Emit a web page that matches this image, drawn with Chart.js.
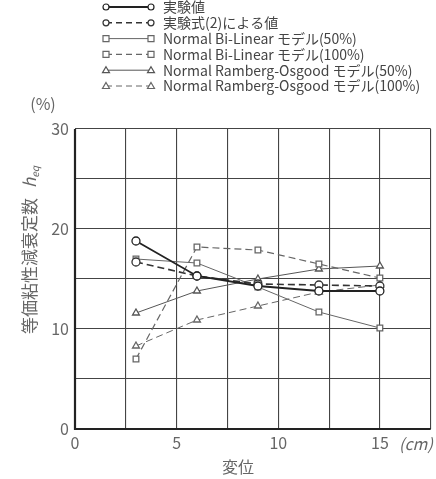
<!DOCTYPE html>
<html><head><meta charset="utf-8">
<script src="https://cdn.jsdelivr.net/npm/chart.js@4.4.0/dist/chart.umd.min.js"></script>
<style>html,body{margin:0;padding:0;background:#fff}#wrap{width:436px;height:479px}</style>
</head><body><div id="wrap"><canvas id="c" width="436" height="479"></canvas></div>
<script>
const displacement = [3, 6, 9, 12, 15];
const seriesNames = ["実験値", "実験式(2)による値", "Normal Bi-Linear モデル(50%)", "Normal Bi-Linear モデル(100%)", "Normal Ramberg-Osgood モデル(50%)", "Normal Ramberg-Osgood モデル(100%)"];
const experimental = [18.8, 15.3, 14.3, 13.8, 13.8];
const formula2 = [16.7, 15.3, 14.5, 14.4, 14.3];
const biLinear50 = [17.0, 16.6, 14.2, 11.7, 10.1];
const biLinear100 = [7.0, 18.2, 17.9, 16.5, 15.1];
const ramberg50 = [11.6, 13.8, 15.0, 16.0, 16.3];
const ramberg100 = [8.3, 10.9, 12.3, 13.7, 14.4];
const xTickLabels = [0, 5, 10, 15];
const yTickLabels = [0, 10, 20, 30];

const FONT = '"Noto Sans CJK JP", "Noto Sans", sans-serif';
const GREY = '#666';
function pts(arr){ return arr.map((v,i)=>({x: displacement[i], y: v})); }
const styles = [
  {data: experimental, dash: [], point: 'circle', color: '#222', width: 1.8},
  {data: formula2, dash: [7,4], point: 'circle', color: '#333', width: 1.6},
  {data: biLinear50, dash: [], point: 'rect', color: '#666', width: 1},
  {data: biLinear100, dash: [7,4], point: 'rect', color: '#666', width: 1.2},
  {data: ramberg50, dash: [], point: 'triangle', color: '#555', width: 1},
  {data: ramberg100, dash: [7,4], point: 'triangle', color: '#666', width: 1},
];
const datasets = styles.map((s,i)=>({
  label: seriesNames[i], data: pts(s.data), borderColor: s.color, borderWidth: s.width,
  borderDash: s.dash, pointStyle: s.point, pointRadius: 4, pointBackgroundColor: '#fff',
  pointBorderColor: s.color, pointBorderWidth: 1.3, fill: false, tension: 0
}));

const extras = {
  id: 'extras',
  afterDraw(chart){
    const ctx = chart.ctx;
    ctx.save();
    // Legend
    const rowY0 = 7, rowH = 15.8, x1 = 106, x2 = 151, tx = 163;
    ctx.font = '14px ' + FONT;
    ctx.textBaseline = 'middle';
    styles.forEach((s,i)=>{
      const y = rowY0 + i*rowH;
      ctx.strokeStyle = s.color; ctx.lineWidth = s.width;
      ctx.setLineDash(s.dash.length ? [6,4] : []);
      ctx.beginPath(); ctx.moveTo(x1, y); ctx.lineTo(x2, y); ctx.stroke();
      ctx.setLineDash([]);
      [x1, x2].forEach(px=>{
        ctx.fillStyle = '#fff'; ctx.lineWidth = 1.2; ctx.strokeStyle = s.color;
        ctx.beginPath();
        if (s.point==='circle'){ ctx.arc(px, y, 3, 0, Math.PI*2); }
        else if (s.point==='rect'){ ctx.rect(px-3, y-3, 6, 6); }
        else { ctx.moveTo(px, y-3.5); ctx.lineTo(px+3.5, y+2.5); ctx.lineTo(px-3.5, y+2.5); ctx.closePath(); }
        ctx.fill(); ctx.stroke();
      });
      ctx.fillStyle = '#444';
      ctx.textAlign = 'left';
      ctx.fillText(seriesNames[i], tx, y);
    });
    // (%)
    ctx.fillStyle = GREY;
    ctx.font = '16px ' + FONT;
    ctx.textAlign = 'center';
    ctx.fillText('(%)', 43, 104);
    // (cm)
    ctx.font = 'italic 16px ' + FONT;
    ctx.textAlign = 'left';
    ctx.fillText('(cm)', 399, 444);
    // 変位
    ctx.font = '16px ' + FONT;
    ctx.textAlign = 'center';
    ctx.fillText('変位', 238, 467);
    // y title
    ctx.translate(30, 250);
    ctx.rotate(-Math.PI/2);
    ctx.font = '17px ' + FONT;
    ctx.textAlign = 'center';
    const main = '等価粘性減衰定数';
    const w = ctx.measureText(main).width;
    ctx.font = 'italic 17px ' + FONT;
    const hw = ctx.measureText('h').width;
    ctx.font = 'italic 10px ' + FONT;
    const ew = ctx.measureText('eq').width;
    const total = w + 10 + hw + ew;
    let sx = -total/2;
    ctx.textAlign = 'left';
    ctx.font = '17px ' + FONT;
    ctx.fillText(main, sx, 0);
    sx += w + 10;
    ctx.font = 'italic 17px ' + FONT;
    ctx.fillText('h', sx, 0);
    sx += hw;
    ctx.font = 'italic 10px ' + FONT;
    ctx.fillText('eq', sx, 5);
    ctx.restore();
    // thick frame left and bottom
    const a = chart.chartArea;
    ctx.save();
    ctx.strokeStyle = '#222'; ctx.lineWidth = 2.2;
    ctx.beginPath(); ctx.moveTo(a.left, a.top); ctx.lineTo(a.left, a.bottom); ctx.lineTo(a.right, a.bottom); ctx.stroke();
    ctx.restore();
  }
};

new Chart(document.getElementById('c'), {
  type: 'line',
  data: { datasets },
  options: {
    responsive: false, animation: false,
    layout: { padding: { top: 129, left: 0, right: 4, bottom: 0 } },
    plugins: { legend: { display: false }, tooltip: { enabled: false } },
    scales: {
      x: {
        type: 'linear', min: 0, max: 17.5,
        afterFit(s){ s.height = 50; },
        afterBuildTicks(s){ s.ticks = [0,2.5,5,7.5,10,12.5,15,17.5].map(v=>({value:v})); },
        ticks: { color: GREY, font: { size: 16, family: FONT }, padding: 4, maxRotation: 0,
          callback: v => xTickLabels.includes(v) ? String(v) : '' },
        grid: { color: '#444', lineWidth: 1.1, drawTicks: false },
        border: { display: false }
      },
      y: {
        min: 0, max: 30,
        afterFit(s){ s.width = 75; },
        afterBuildTicks(s){ s.ticks = [0,5,10,15,20,25,30].map(v=>({value:v})); },
        ticks: { color: GREY, font: { size: 16, family: FONT }, padding: 6,
          callback: v => yTickLabels.includes(v) ? String(v) : '' },
        grid: { color: '#444', lineWidth: 1.1, drawTicks: false },
        border: { display: false }
      }
    }
  },
  plugins: [extras]
});
</script></body></html>
